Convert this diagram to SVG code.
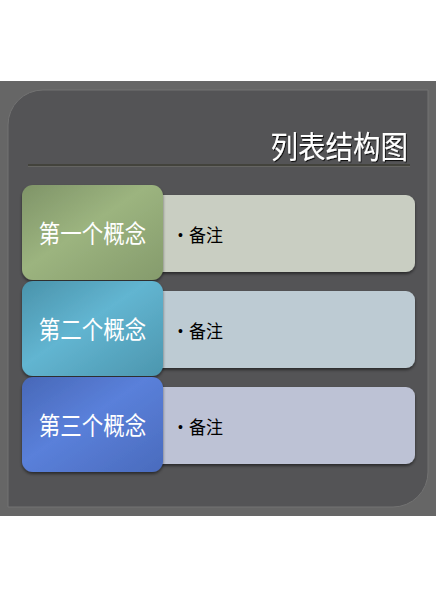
<svg xmlns="http://www.w3.org/2000/svg" width="436" height="600" viewBox="0 0 436 600">
  <defs>
    <linearGradient id="gGreen" x1="0" y1="0" x2="1" y2="1">
      <stop offset="0" stop-color="#7f9468"/>
      <stop offset="0.45" stop-color="#9cb47f"/>
      <stop offset="1" stop-color="#859b6c"/>
    </linearGradient>
    <linearGradient id="gTeal" x1="0" y1="0" x2="1" y2="1">
      <stop offset="0" stop-color="#4a93ab"/>
      <stop offset="0.45" stop-color="#62b5d1"/>
      <stop offset="1" stop-color="#4c96ae"/>
    </linearGradient>
    <linearGradient id="gBlue" x1="0" y1="0" x2="1" y2="1">
      <stop offset="0" stop-color="#4868b8"/>
      <stop offset="0.45" stop-color="#5a80da"/>
      <stop offset="1" stop-color="#4a6bbd"/>
    </linearGradient>
    <filter id="sh" x="-10%" y="-10%" width="120%" height="130%">
      <feDropShadow dx="0" dy="2" stdDeviation="1.5" flood-color="#000" flood-opacity="0.5"/>
    </filter>
    <filter id="tsh" x="-10%" y="-10%" width="120%" height="130%">
      <feDropShadow dx="1" dy="1" stdDeviation="0.6" flood-color="#000" flood-opacity="0.8"/>
    </filter>
  </defs>
  <style>
    .concept { font-family: "Noto Sans CJK SC", sans-serif; font-size: 21.5px; fill: #ffffff; text-anchor: middle; }
    .note { font-family: "Noto Sans CJK SC", sans-serif; font-size: 17px; fill: #000000; }
    .bullet { font-family: "Liberation Sans", sans-serif; font-size: 14px; fill: #000000; }
    .title { font-family: "Noto Sans CJK SC", sans-serif; font-size: 27.5px; fill: #ffffff; text-anchor: end; }
  </style>
  <rect x="0" y="0" width="436" height="600" fill="#ffffff"/>
  <rect x="0" y="81" width="436" height="435" fill="#666666"/>
  <path d="M8,507 L8,125 A35,35 0 0 1 43,90 L428,90 L428,472 A35,35 0 0 1 393,507 Z" fill="#545456" stroke="#727272" stroke-width="1"/>
  <g id="title">
    <text class="title" transform="translate(408,158) scale(1,1.13)" filter="url(#tsh)">列表结构图</text>
    <line x1="28" y1="165" x2="410" y2="165" stroke="#3e3e34" stroke-width="1.5"/>
    <line x1="28" y1="166.5" x2="410" y2="166.5" stroke="#6a6a66" stroke-width="0.8"/>
  </g>
  <g id="connectors"></g>
  <g id="row1">
    <rect x="150" y="195" width="265" height="77" rx="9" fill="#c9cec2" filter="url(#sh)"/>
    <rect x="22" y="185" width="141" height="95" rx="11" fill="url(#gGreen)" filter="url(#sh)"/>
    <text class="concept" transform="translate(92.5,243) scale(1,1.18)">第一个概念</text>
    <text class="bullet" x="178" y="240">•</text>
    <text class="note" transform="translate(189,242) scale(1,1.1)">备注</text>
  </g>
  <g id="row2">
    <rect x="150" y="291" width="265" height="77" rx="9" fill="#bdcbd3" filter="url(#sh)"/>
    <rect x="22" y="281" width="141" height="95" rx="11" fill="url(#gTeal)" filter="url(#sh)"/>
    <text class="concept" transform="translate(92.5,339) scale(1,1.18)">第二个概念</text>
    <text class="bullet" x="178" y="336">•</text>
    <text class="note" transform="translate(189,338) scale(1,1.1)">备注</text>
  </g>
  <g id="row3">
    <rect x="150" y="387" width="265" height="77" rx="9" fill="#bdc2d5" filter="url(#sh)"/>
    <rect x="22" y="377" width="141" height="95" rx="11" fill="url(#gBlue)" filter="url(#sh)"/>
    <text class="concept" transform="translate(92.5,435) scale(1,1.18)">第三个概念</text>
    <text class="bullet" x="178" y="432">•</text>
    <text class="note" transform="translate(189,434) scale(1,1.1)">备注</text>
  </g>
</svg>
